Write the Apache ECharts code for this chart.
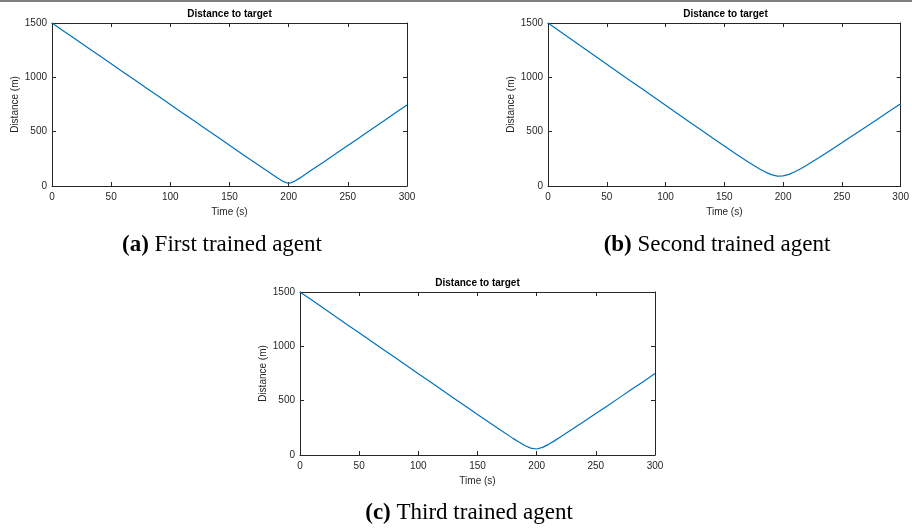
<!DOCTYPE html>
<html>
<head>
<meta charset="utf-8">
<title>Distance to target</title>
<script src="https://cdn.jsdelivr.net/npm/echarts@6/dist/echarts.min.js"></script>
<style>
  html, body { margin: 0; padding: 0; background: #ffffff; }
  #chart { width: 912px; height: 528px; }
</style>
</head>
<body>
<div id="chart"></div>
<script>
// Sample times (s)
const times = [0, 10, 20, 30, 40, 50, 60, 70, 80, 90, 100, 110, 120, 130, 140, 150, 160, 170, 180,
  185, 190, 195, 200, 205, 210, 215, 220,
  230, 240, 250, 260, 270, 280, 290, 300];

// Distance to target (m) for each trained agent
const distFirst = [1500, 1425, 1350, 1275, 1200, 1125, 1050, 975, 900, 825, 750, 675, 600, 525, 450, 375, 300, 226, 151,
  115, 78, 43, 23, 43, 77, 114, 151,
  224, 298, 373, 447, 522, 596, 671, 745];
const distSecond = [1500, 1424, 1348, 1272, 1196, 1121, 1045, 969, 894, 818, 743, 667, 592, 517, 442, 368, 295, 224, 157,
  128, 105, 91, 93, 107, 131, 159, 190,
  257, 327, 397, 469, 541, 613, 685, 757];
const distThird = [1500, 1426, 1350, 1275, 1199, 1124, 1049, 974, 899, 824, 748, 673, 598, 523, 448, 373, 299, 226, 153,
  119, 87, 63, 55, 70, 98, 130, 165,
  236, 308, 381, 454, 528, 602, 675, 749];

const xTicks = { min: 0, max: 300, interval: 50 };
const yTicks = { min: 0, max: 1500, interval: 500 };

const panelTitle = 'Distance to target';
const xName = 'Time (s)';
const yName = 'Distance (m)';
const captions = [
  { tag: '(a)', text: ' First trained agent' },
  { tag: '(b)', text: ' Second trained agent' },
  { tag: '(c)', text: ' Third trained agent' }
];
const seriesData = [distFirst, distSecond, distThird];

// Panel boxes (pixels)
const panels = [
  { left: 52, top: 23, width: 355, height: 163, capX: 222, capY: 245 },
  { left: 548, top: 23, width: 355, height: 163, capX: 717, capY: 245 },
  { left: 300, top: 292, width: 355, height: 163, capX: 469, capY: 513 }
];

const INK = '#262626';
const LINE = '#0072BD';
const SANS = '"Liberation Sans", Arial, Helvetica, sans-serif';
const SERIF = '"Liberation Serif", "Times New Roman", serif';

const grids = [], xAxes = [], yAxes = [], series = [], graphics = [];

graphics.push({
  type: 'rect', shape: { x: 0, y: 0, width: 912, height: 2 },
  style: { fill: '#7f7f7f' }, silent: true
});

panels.forEach((p, i) => {
  grids.push({ left: p.left, top: p.top, width: p.width, height: p.height, containLabel: false });

  const tickStyle = { show: true, inside: true, length: 4, lineStyle: { color: INK, width: 1 } };
  const lineStyle = { show: true, onZero: false, lineStyle: { color: INK, width: 1 } };

  xAxes.push({
    type: 'value', gridIndex: i, position: 'bottom', ...xTicks,
    axisLine: lineStyle, axisTick: tickStyle, splitLine: { show: false },
    axisLabel: { color: INK, fontSize: 10, fontFamily: SANS, margin: 6, formatter: v => String(v) },
    name: xName, nameLocation: 'middle', nameGap: 21,
    nameTextStyle: { color: INK, fontSize: 10, fontFamily: SANS }
  });
  xAxes.push({
    type: 'value', gridIndex: i, position: 'top', ...xTicks,
    axisLine: lineStyle, axisTick: tickStyle, splitLine: { show: false },
    axisLabel: { show: false }
  });
  yAxes.push({
    type: 'value', gridIndex: i, position: 'left', ...yTicks,
    axisLine: lineStyle, axisTick: tickStyle, splitLine: { show: false },
    axisLabel: { color: INK, fontSize: 10, fontFamily: SANS, margin: 5, formatter: v => String(v) },
    name: yName, nameLocation: 'middle', nameGap: 32,
    nameTextStyle: { color: INK, fontSize: 10, fontFamily: SANS }
  });
  yAxes.push({
    type: 'value', gridIndex: i, position: 'right', ...yTicks,
    axisLine: lineStyle, axisTick: tickStyle, splitLine: { show: false },
    axisLabel: { show: false }
  });

  series.push({
    type: 'line', xAxisIndex: 2 * i, yAxisIndex: 2 * i,
    data: times.map((t, k) => [t, seriesData[i][k]]),
    showSymbol: false, smooth: false, silent: true,
    lineStyle: { color: LINE, width: 1.2 }
  });

  graphics.push({
    type: 'text', silent: true,
    style: {
      x: p.left + p.width / 2, y: p.top - 9,
      text: panelTitle, align: 'center', verticalAlign: 'middle',
      font: 'bold 10px ' + SANS, fill: '#000000'
    }
  });

  graphics.push({
    type: 'text', silent: true,
    style: {
      x: p.capX, y: p.capY,
      text: '{b|' + captions[i].tag + '}{n|' + captions[i].text + '}',
      align: 'center', verticalAlign: 'middle',
      rich: {
        b: { fontFamily: SERIF, fontSize: 23, fontWeight: 'bold', fill: '#000000', color: '#000000' },
        n: { fontFamily: SERIF, fontSize: 23, fill: '#000000', color: '#000000' }
      },
      fill: '#000000'
    }
  });
});

const chart = echarts.init(document.getElementById('chart'), null, { renderer: 'canvas' });
chart.setOption({
  animation: false,
  backgroundColor: '#ffffff',
  grid: grids,
  xAxis: xAxes,
  yAxis: yAxes,
  series: series,
  graphic: graphics
});
</script>
</body>
</html>
